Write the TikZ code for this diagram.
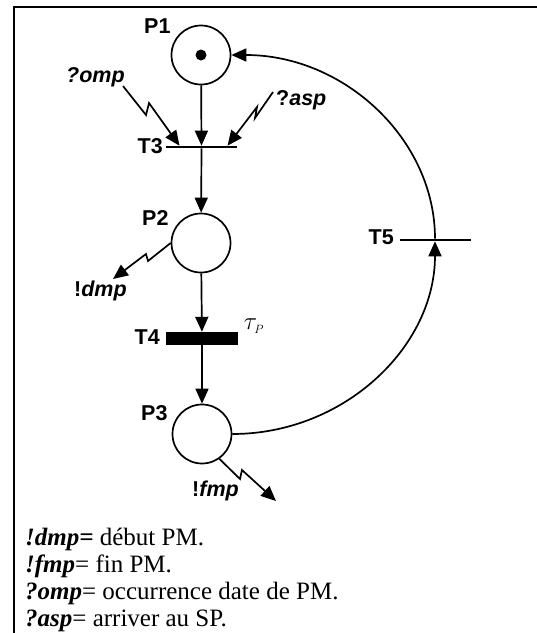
\documentclass[tikz,border=0pt]{standalone}
\usepackage{fontspec}
\setmainfont{Liberation Serif}
\newfontfamily\hv{Liberation Sans}
\usetikzlibrary{arrows.meta}
\begin{document}
\begin{tikzpicture}[x=1pt,y=-1pt,
  place/.style={circle,draw,line width=1.7pt,minimum size=59pt,inner sep=0pt},
  trans/.style={rectangle,fill=black,inner sep=0pt,minimum width=71pt,minimum height=2.2pt},
  ttrans/.style={rectangle,fill=black,inner sep=0pt,minimum width=72pt,minimum height=13pt},
  arr/.style={line width=1.7pt,-{Triangle[length=15pt,width=13pt]}},
  lbl/.style={font=\hv\bfseries\fontsize{21.5}{24}\selectfont,inner sep=0pt},
  leg/.style={font=\fontsize{25}{27}\selectfont,inner sep=0pt,anchor=base west}]
\useasboundingbox (0,0) rectangle (537,633);
\draw[line width=2.2pt] (14,633) -- (14,7) -- (538,7);

\node[place] (P1) at (201,55) {};
\fill (P1.center) circle (5.5pt);
\node[place] (P2) at (201,243) {};
\node[place] (P3) at (202,434) {};
\node[trans] (T3) at (201.5,147) {};
\node[ttrans] (T4) at (202,338.5) {};
\node[trans] (T5) at (435,240) {};

\node[lbl,anchor=base west] (lP1) at (144,33) {P1};
\node[lbl,anchor=base west] (lP2) at (142,225) {P2};
\node[lbl,anchor=base west] (lP3) at (141,420) {P3};
\node[lbl,anchor=base east] (lT3) at (163,153) {T3};
\node[lbl,anchor=base east] (lT4) at (160,344) {T4};
\node[lbl,anchor=base east] (lT5) at (394,244) {T5};
\node[lbl,anchor=base west] (omp) at (66,82) {\itshape ?omp};
\node[lbl,anchor=base west] (asp) at (276,105) {?\itshape asp};
\node[lbl,anchor=base west] (dmp) at (74,296) {!\itshape dmp};
\node[lbl,anchor=base west] (fmp) at (192,496) {!\itshape fmp};
\node[inner sep=0pt] (tau) at (254,326) {\fontsize{24}{26}\selectfont$\tau_{\scriptscriptstyle P}$};

\draw[arr] (P1) -- (T3);
\draw[arr] (T3) -- (P2);
\draw[arr] (P2) -- (T4);
\draw[arr] (T4) -- (P3);
\draw[arr] (P3.east) .. controls (344,434) and (435,347) .. (T5.south);
\draw[arr] (T5.north) .. controls (435,139) and (344,55) .. (P1.east);

\coordinate (ompS) at (123,86);
\coordinate (aspS) at (273,92);
\draw[arr] (ompS) -- (146,115) -- (149,103) -- ([xshift=-22pt]T3.north);
\draw[arr] (aspS) -- (255,118) -- (257,107) -- ([xshift=26pt]T3.north);
\draw[arr] (P2.west) -- (148,261) -- (146,254) -- (113,279);
\draw[arr] (P3.-55) -- (240,479) -- (242,470) -- (276,501);

\node[leg] (L1) at (25,545) {\textbf{\textit{!dmp=}} début PM.};
\node[leg] (L2) at (25,572) {\textbf{\textit{!fmp}}= fin PM.};
\node[leg] (L3) at (25,599) {\textbf{\textit{?omp}}= occurrence date de PM.};
\node[leg] (L4) at (25,626) {\textbf{\textit{?asp}}= arriver au SP.};
\end{tikzpicture}
\end{document}
